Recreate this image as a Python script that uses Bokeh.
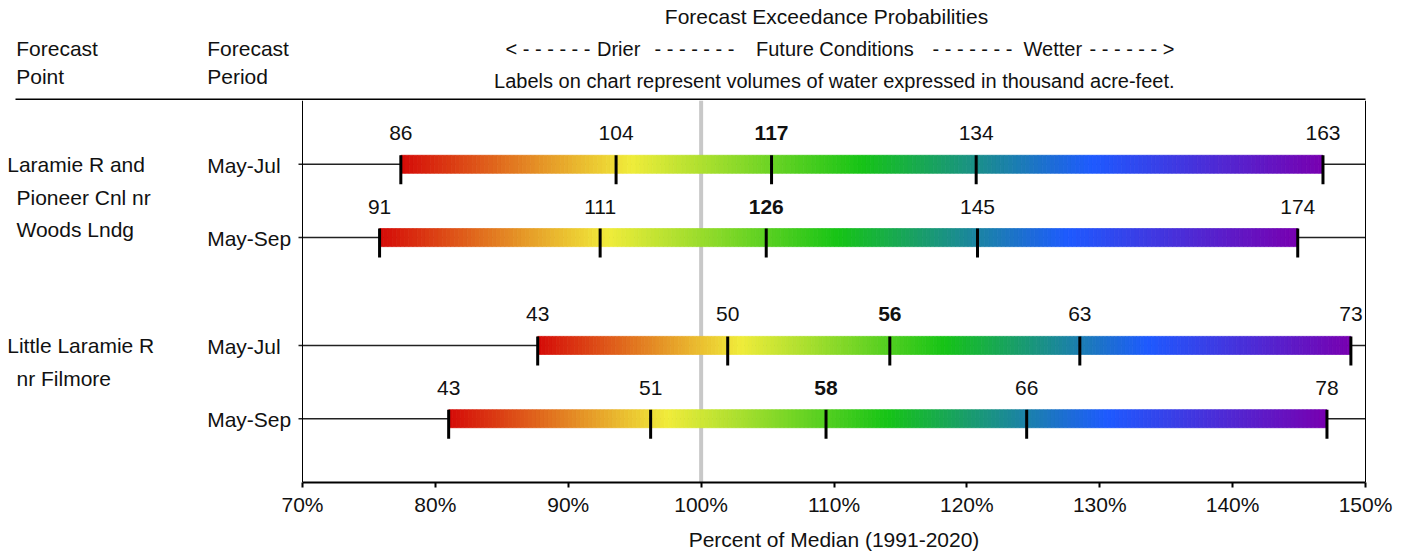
import numpy as np
from bokeh.plotting import figure
from bokeh.layouts import column
from bokeh.models import (FactorRange, Range1d, ColumnDataSource, Span,
                          FixedTicker, PrintfTickFormatter)
from bokeh.transform import dodge
from bokeh.core.properties import value
from bokeh.embed import file_html
from bokeh.resources import INLINE

# ---------------- data ----------------
forecast_points = ["Laramie R and Pioneer Cnl nr Woods Lndg",
                   "Laramie R and Pioneer Cnl nr Woods Lndg",
                   "Little Laramie R nr Filmore",
                   "Little Laramie R nr Filmore"]
forecast_periods = ["May-Jul", "May-Sep", "May-Jul", "May-Sep"]
point_name_lines = {
    "Laramie R and Pioneer Cnl nr Woods Lndg": ["Laramie R and", "Pioneer Cnl nr", "Woods Lndg"],
    "Little Laramie R nr Filmore": ["Little Laramie R", "nr Filmore"],
}
# percent of median (1991-2020) at exceedance probabilities 90/70/50/30/10 %
pct_90 = [77.4, 75.8, 87.7, 81.0]
pct_70 = [93.6, 92.4, 102.0, 96.2]
pct_50 = [105.3, 104.9, 114.2, 109.4]
pct_30 = [120.7, 120.8, 128.5, 124.5]
pct_10 = [146.8, 144.9, 148.9, 147.1]
# forecast volumes (thousand acre-feet)
vol_90 = [86, 91, 43, 43]
vol_70 = [104, 111, 50, 51]
vol_50 = [117, 126, 56, 58]
vol_30 = [134, 145, 63, 66]
vol_10 = [163, 174, 73, 78]
x_ticks = [70, 80, 90, 100, 110, 120, 130, 140, 150]
median_line = 100

title_text = "Forecast Exceedance Probabilities"
scale_texts = ["< - - - - - -", "Drier", "- - - - - - -", "Future Conditions",
               "- - - - - - -", "Wetter", "- - - - - - >"]
note_text = "Labels on chart represent volumes of water expressed in thousand acre-feet."
col_head_point = ["Forecast", "Point"]
col_head_period = ["Forecast", "Period"]
x_title = "Percent of Median (1991-2020)"

# ---------------- layout / style ----------------
FONT = value("Liberation Sans")
FS = "21px"
FS_SMALL = "20px"
TXT = "#111111"
W = 1408
HEAD_H, MAIN_H, FOOT_H = 100, 422, 32
PX_LO, PX_HI = 302, 1365          # screen x of 70 % and 150 %
FRAME_R = 1367
FRAME_H = 382
GROUP_PAD = 0.47
RANGE_PAD = 0.37
U = FRAME_H / (4 + GROUP_PAD + 2 * RANGE_PAD)   # px per category unit
DX = (PX_HI - PX_LO) / (x_ticks[-1] - x_ticks[0])  # px per percent


def px_to_x(px):
    return x_ticks[0] + (px - PX_LO) / DX


def plain_fig(h):
    f = figure(width=W, height=h, x_range=Range1d(0, FRAME_R), y_range=Range1d(h, 0),
               x_axis_location=None, y_axis_location=None, toolbar_location=None,
               output_backend="svg", min_border_left=0, min_border_top=0,
               min_border_bottom=0, min_border_right=W - FRAME_R)
    f.outline_line_color = None
    f.grid.visible = False
    return f


def put(f, x, y, t, align="left", size=FS):
    f.text(x=[x], y=[y], text=[t], text_align=align, text_baseline="middle",
           text_font=FONT, text_font_size=size, text_color=TXT)


# ---------------- header ----------------
head = plain_fig(HEAD_H)
put(head, 826, 16, title_text, "center")
for x, t in zip((505, 596.5, 654, 755.5, 932, 1023, 1089), scale_texts):
    put(head, x, 48, t, size=FS_SMALL)
put(head, 833.8, 80, note_text, "center", size=FS_SMALL)
put(head, 15.7, 48, col_head_point[0])
put(head, 15.7, 76, col_head_point[1])
put(head, 206.7, 48, col_head_period[0])
put(head, 206.7, 76, col_head_period[1])
head.segment(x0=15, x1=PX_HI, y0=HEAD_H - 1, y1=HEAD_H - 1, line_color="black",
             line_width=2)

# ---------------- main chart ----------------
rows = list(zip(forecast_points, forecast_periods))
y_range = FactorRange(factors=rows[::-1], factor_padding=0, group_padding=GROUP_PAD,
                      range_padding=RANGE_PAD, range_padding_units="absolute")
p = figure(width=W, height=MAIN_H, x_range=Range1d(px_to_x(0), px_to_x(FRAME_R)),
           y_range=y_range, y_axis_location=None, toolbar_location=None,
           output_backend="svg", min_border_left=0, min_border_right=W - FRAME_R,
           min_border_top=0, min_border_bottom=MAIN_H - FRAME_H)
p.xgrid.visible = False
p.ygrid.visible = False
p.outline_line_color = None

# median reference line and plot-area borders
p.add_layout(Span(location=median_line, dimension="height", line_color="#c8c8c8",
                  line_width=4, level="underlay"))
p.add_layout(Span(location=x_ticks[0], dimension="height", line_color="black", line_width=1))
p.add_layout(Span(location=x_ticks[-1], dimension="height", line_color="black", line_width=1))

# thin row lines across the plot (with small left tick)
row_src = ColumnDataSource(dict(y=rows, period=forecast_periods))
p.segment(x0=px_to_x(PX_LO - 4), x1=x_ticks[-1], y0="y", y1="y", source=row_src,
          line_color="#222222", line_width=1.5)

# gradient bars
stops = [(213, 10, 8), (240, 236, 58), (22, 196, 22), (30, 90, 255), (120, 0, 176)]


def grad(t):
    pos = t * (len(stops) - 1)
    i = min(int(pos), len(stops) - 2)
    f = pos - i
    c = [round(a + (b - a) * f) for a, b in zip(stops[i], stops[i + 1])]
    return "#%02x%02x%02x" % tuple(c)


N = 220
gl, gr, gy, gc = [], [], [], []
for r, row in enumerate(rows):
    edges = np.linspace(pct_90[r], pct_10[r], N + 1)
    for k in range(N):
        gl.append(edges[k]); gr.append(edges[k + 1]); gy.append(row)
        gc.append(grad((k + 0.5) / N))
p.hbar(y="y", left="l", right="r", height=18 / U, fill_color="c", line_color="c",
       line_width=0.8, source=ColumnDataSource(dict(y=gy, l=gl, r=gr, c=gc)))

# tick marks and value labels
tx, ty, tl, tb = [], [], [], []
for r, row in enumerate(rows):
    for pc, vo, is_med in ((pct_90[r], vol_90[r], False), (pct_70[r], vol_70[r], False),
                           (pct_50[r], vol_50[r], True), (pct_30[r], vol_30[r], False),
                           (pct_10[r], vol_10[r], False)):
        tx.append(pc); ty.append(row); tl.append(str(vo)); tb.append(is_med)
p.rect(x="x", y=dodge("y", -5.5 / U, range=y_range), width=3, height=29,
       width_units="screen", height_units="screen", fill_color="black",
       line_color=None, source=ColumnDataSource(dict(x=tx, y=ty)))
for bold in (False, True):
    idx = [i for i in range(len(tx)) if tb[i] == bold]
    src = ColumnDataSource(dict(x=[tx[i] for i in idx], y=[ty[i] for i in idx],
                                t=[tl[i] for i in idx]))
    p.text(x="x", y=dodge("y", 31 / U, range=y_range), text="t", source=src,
           text_align="center", text_baseline="alphabetic", text_font=FONT,
           text_font_size=FS, text_color=TXT,
           text_font_style="bold" if bold else "normal")

# forecast period labels
p.text(x=px_to_x(206.7), y=dodge("y", -1 / U, range=y_range), text="period",
       source=row_src, text_align="left", text_baseline="middle", text_font=FONT,
       text_font_size=FS, text_color=TXT)

# forecast point names
first_rows = [rows[forecast_points.index(pt)] for pt in point_name_lines]
max_lines = max(len(v) for v in point_name_lines.values())
for li in range(max_lines):
    ys, ts = [], []
    for pt, fr in zip(point_name_lines, first_rows):
        if li < len(point_name_lines[pt]):
            ys.append(fr); ts.append(point_name_lines[pt][li])
    p.text(x=px_to_x(6.7 if li == 0 else 16), y=dodge("y", (-0.5 - 32.5 * li) / U, range=y_range),
           text="t", source=ColumnDataSource(dict(y=ys, t=ts)), text_align="left",
           text_baseline="middle", text_font=FONT, text_font_size=FS, text_color=TXT)

# x axis
xa = p.xaxis[0]
xa.bounds = (x_ticks[0], x_ticks[-1])
xa.ticker = FixedTicker(ticks=x_ticks)
xa.formatter = PrintfTickFormatter(format="%d%%")
xa.axis_line_width = 2
xa.axis_line_color = "black"
xa.major_tick_line_width = 2
xa.major_tick_line_color = "black"
xa.major_tick_out = 5
xa.major_tick_in = 0
xa.minor_tick_line_color = None
xa.major_label_standoff = 5
xa.major_label_text_font = "Liberation Sans"
xa.major_label_text_font_size = FS
xa.major_label_text_color = TXT

# ---------------- footer (x axis title) ----------------
foot = plain_fig(FOOT_H)
put(foot, (PX_LO + PX_HI) / 2, 17, x_title, "center")

layout = column(head, p, foot, spacing=0)
open("out.html", "w").write(file_html(layout, INLINE))
